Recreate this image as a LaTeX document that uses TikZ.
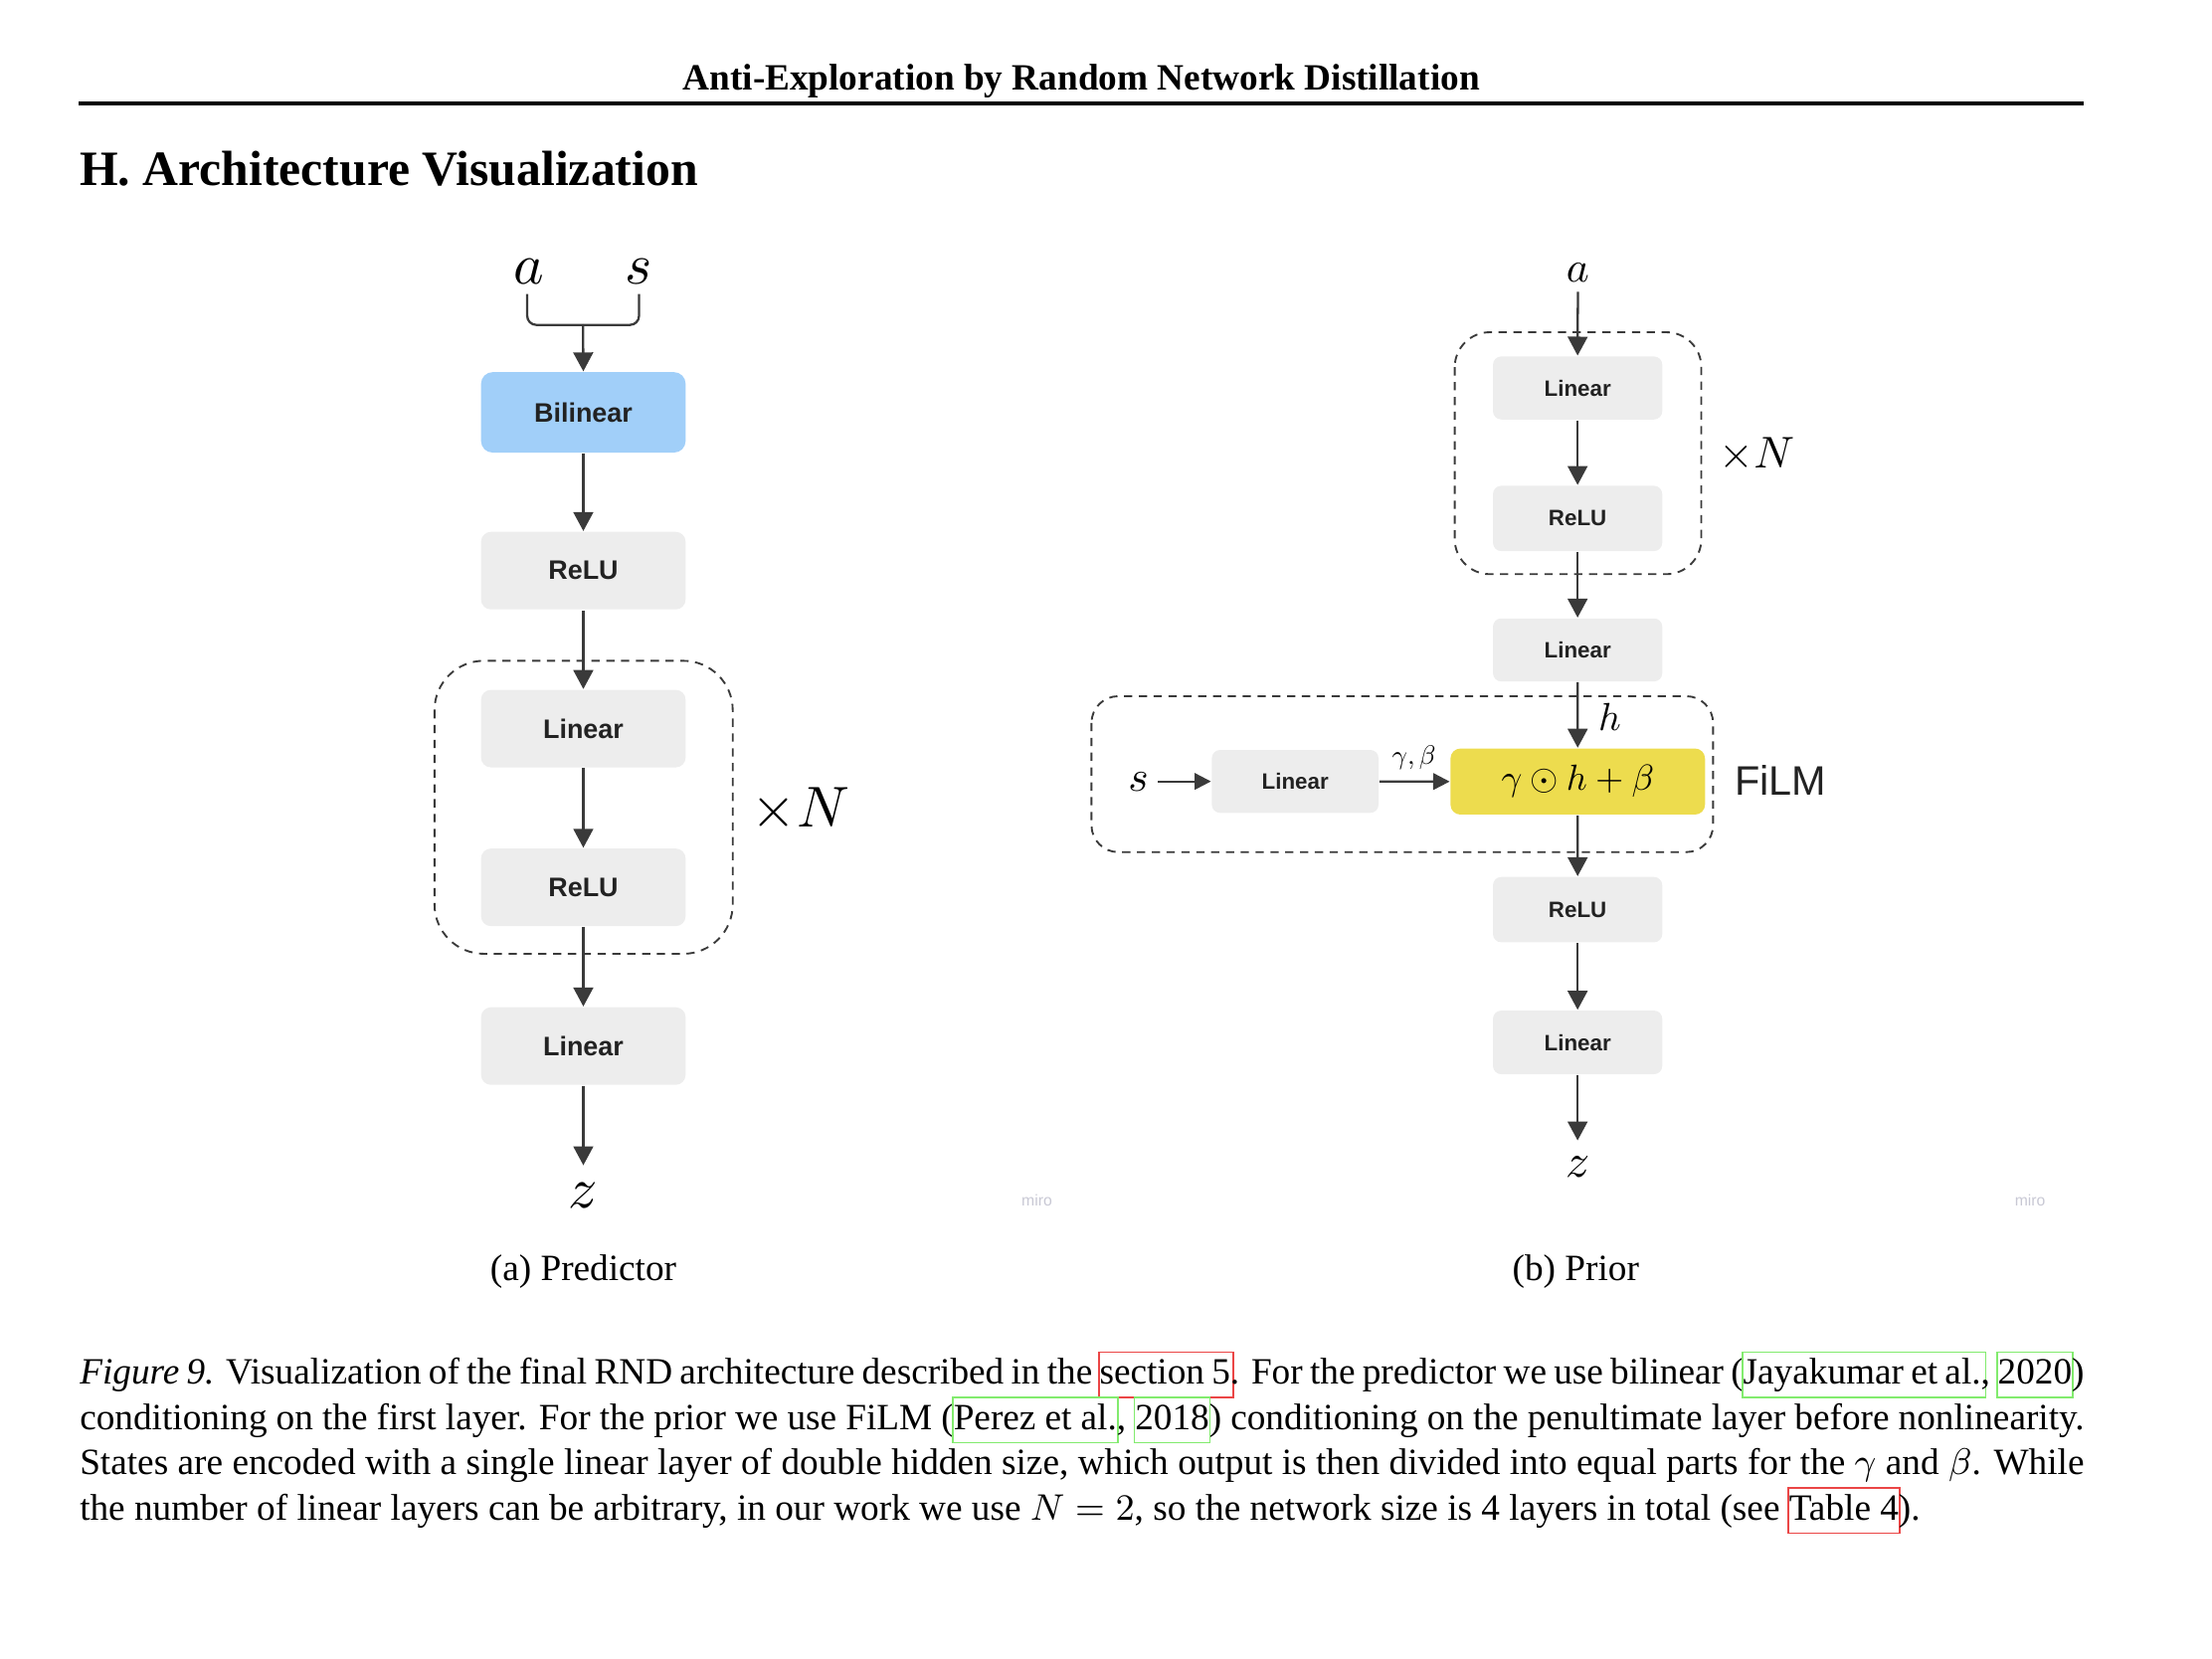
\RequirePackage{fix-cm}
\documentclass[tikz,border=0pt]{standalone}
\usepackage{graphicx}
\usepackage{fontspec}
\setmainfont{Liberation Serif}
\newfontfamily\boxfont{Liberation Sans}
\usetikzlibrary{arrows.meta}
\newlength\dpx \setlength\dpx{0.3426pt}
\definecolor{boxgray}{RGB}{237,237,237}
\definecolor{bilblue}{RGB}{161,207,249}
\definecolor{filmyellow}{RGB}{237,220,78}
\definecolor{ink}{RGB}{58,58,58}
\definecolor{boxtext}{RGB}{34,34,34}
\definecolor{lnkred}{RGB}{235,70,70}
\definecolor{lnkgreen}{RGB}{130,235,110}
\definecolor{mirogray}{RGB}{200,200,212}
\newcommand\lnk[2]{\rlap{\kern-0.4pt\smash{\textcolor{#1}{\fboxsep=0pt\fboxrule=0.4pt\fbox{\rule[-3pt]{0pt}{10.6pt}\phantom{#2}}}}}#2}
\newcommand\mth[2]{\scalebox{#1}{\fontsize{10}{12}\selectfont$#2$}}
\tikzset{
  arr/.style={draw=ink, line width=0.55pt, -{Triangle[width=4.8pt,length=4.6pt]}},
  sarr/.style={draw=ink, line width=0.55pt, -{Triangle[width=4.0pt,length=4.0pt]}},
  dashbox/.style={draw=ink, line width=0.45pt, dash pattern=on 2pt off 1.6pt},
  lblk/.style={rectangle, rounded corners=2.4pt, fill=boxgray, inner sep=0pt, text=boxtext,
    minimum width=145*\dpx, minimum height=55*\dpx,
    font=\boxfont\bfseries\fontsize{6.5}{7}\selectfont},
  rblk/.style={rectangle, rounded corners=2pt, fill=boxgray, inner sep=0pt, text=boxtext,
    minimum width=120*\dpx, minimum height=45.5*\dpx,
    font=\boxfont\bfseries\fontsize{5.4}{6}\selectfont},
  mlbl/.style={inner sep=0pt, anchor=base},
  miro/.style={inner sep=0pt, text=mirogray, font=\boxfont\fontsize{3.8}{4}\selectfont},
  subcap/.style={inner sep=0pt, anchor=base, font=\fontsize{9}{11}\selectfont}
}
\begin{document}
\begin{tikzpicture}[x=\dpx, y=-\dpx]
\useasboundingbox (0,0) rectangle (1568,1176);
% header
\node[inner sep=0pt, anchor=base] (hdr) at (766.5,63.5) {\fontsize{9}{11}\selectfont\bfseries Anti-Exploration by Random Network Distillation};
\draw[line width=1pt] (56,73.2) -- (1477,73.2);
\node[inner sep=0pt, anchor=base west] (ttl) at (56,131.6) {\fontsize{12}{14}\selectfont\bfseries H. Architecture Visualization};

% ---------------- left: predictor
\node[mlbl] (la) at (374.8,201) {\mth{1.4}{a}};
\node[mlbl] (ls) at (452.6,201) {\mth{1.4}{s}};
\coordinate (laj) at (373.7,208.5);
\coordinate (lsj) at (453,208.5);
\coordinate (ljn) at (413.3,230.3);
\node[lblk, fill=bilblue, rounded corners=2.8pt, minimum height=57*\dpx] (lbil) at (413.5,292.3) {Bilinear};
\node[lblk] (lrelu1) at (413.5,404.5) {ReLU};
\node[lblk] (llin1) at (413.5,516.5) {Linear};
\node[lblk] (lrelu2) at (413.5,629) {ReLU};
\node[lblk] (llin2) at (413.5,741.5) {Linear};
\node[mlbl] (lz) at (413.5,856.6) {\mth{1.4}{z}};
\coordinate (lzt) at (413.5,826);
\draw[dashbox, rounded corners=12pt] (308,468.4) rectangle (519.4,676.1);
\node[mlbl] (lN) at (567.5,586.3) {\mth{1.4}{\times N}};
\draw[draw=ink, line width=0.55pt, rounded corners=2.2pt] (laj) |- (ljn);
\draw[draw=ink, line width=0.55pt, rounded corners=2.2pt] (lsj) |- (ljn);
\draw[arr] (ljn) -- (lbil.north);
\draw[arr] (lbil) -- (lrelu1);
\draw[arr] (lrelu1) -- (llin1);
\draw[arr] (llin1) -- (lrelu2);
\draw[arr] (lrelu2) -- (llin2);
\draw[arr] (llin2) -- (lzt);
\node[miro] (miro1) at (735,851) {miro};
\node[subcap] (capa) at (413.5,908) {(a) Predictor};

% ---------------- right: prior
\node[mlbl] (ra) at (1118.5,199.8) {\mth{1.05}{a}};
\coordinate (rat) at (1118.5,206.8);
\node[rblk, minimum height=44.7*\dpx] (rlin1) at (1118.3,275) {Linear};
\node[rblk, minimum height=46.3*\dpx] (rrelu1) at (1118.3,367.5) {ReLU};
\node[rblk, minimum height=44.7*\dpx] (rlin2) at (1118.3,460.7) {Linear};
\draw[dashbox, rounded corners=8.5pt] (1031.2,235.5) rectangle (1206,407);
\node[mlbl] (rN) at (1245.3,331.8) {\mth{1.08}{\times N}};
\draw[arr] (rat) -- (rlin1.north);
\draw[arr] (rlin1) -- (rrelu1);
\draw[arr] (rrelu1) -- (rlin2);

\draw[dashbox, rounded corners=6.5pt] (773.7,493.5) rectangle (1214.3,604);
\node[rectangle, rounded corners=2.4pt, fill=filmyellow, inner sep=0pt,
  minimum width=180.4*\dpx, minimum height=46.8*\dpx] (film) at (1118.4,554) {\mth{0.88}{\gamma\odot h+\beta}};
\node[rblk, minimum width=118.2*\dpx, minimum height=44.6*\dpx] (slin) at (918.1,553.9) {Linear};
\node[mlbl] (rs) at (807,560.5) {\mth{1.05}{s}};
\coordinate (rss) at (821,553.9);
\draw[sarr] (rss) -- (slin.west);
\draw[sarr] (slin.east) -- (film.west);
\node[mlbl] (gb) at (1002.3,541.7) {\mth{0.65}{\gamma,\beta}};
\draw[arr] (rlin2) -- (film);
\node[mlbl] (hl) at (1141,517.5) {\mth{0.95}{h}};
\node[inner sep=0pt, anchor=base west, font=\boxfont\fontsize{10}{12}\selectfont, text=boxtext] (filml) at (1229,564) {FiLM};

\node[rblk, minimum height=46.3*\dpx] (rrelu2) at (1118.3,644.8) {ReLU};
\node[rblk, minimum height=45.1*\dpx] (rlin3) at (1118.3,738.9) {Linear};
\draw[arr] (film) -- (rrelu2);
\draw[arr] (rrelu2) -- (rlin3);
\coordinate (rzt) at (1118.3,808.4);
\draw[arr] (rlin3) -- (rzt);
\node[mlbl] (rz) at (1118.3,834.3) {\mth{1.15}{z}};
\node[miro] (miro2) at (1439,851) {miro};
\node[subcap] (capb) at (1117,908) {(b) Prior};

% ---------------- caption
\node[inner sep=0pt, anchor=base west] (cap) at (56,981.2) {\parbox[t]{486.8pt}{\fontsize{9}{11}\selectfont\parindent=0pt
\textit{Figure 9.} Visualization of the final RND architecture described in the \lnk{lnkred}{section 5}. For the predictor we use bilinear (\lnk{lnkgreen}{Jayakumar et al.}, \lnk{lnkgreen}{2020})\linebreak
conditioning on the first layer. For the prior we use FiLM (\lnk{lnkgreen}{Perez et al.}, \lnk{lnkgreen}{2018}) conditioning on the penultimate layer before nonlinearity.\linebreak
States are encoded with a single linear layer of double hidden size, which output is then divided into equal parts for the $\gamma$ and $\beta$. While\linebreak
the number of linear layers can be arbitrary, in our work we use $N=2$, so the network size is 4 layers in total (see \lnk{lnkred}{Table 4}).}};
\end{tikzpicture}
\end{document}
